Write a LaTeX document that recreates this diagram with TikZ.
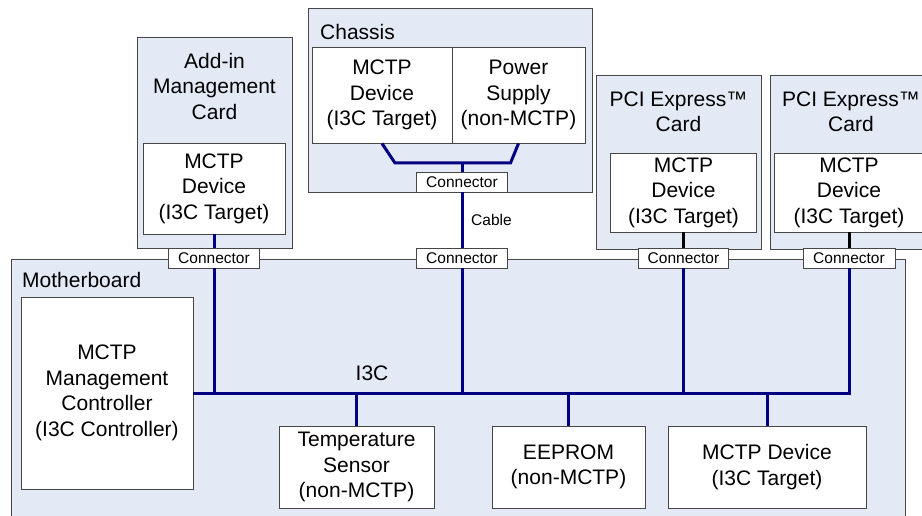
\documentclass[tikz,border=0pt]{standalone}
\usepackage{fontspec}
\setmainfont{Liberation Sans}
\definecolor{bgblue}{RGB}{228,234,245}
\definecolor{busblue}{RGB}{0,0,128}
\definecolor{edgegray}{RGB}{70,70,70}
\tikzset{
  panel/.style={draw=edgegray, fill=bgblue, line width=0.9pt, inner sep=0pt},
  whitebox/.style={draw=edgegray, fill=white, line width=0.9pt, inner sep=0pt, align=center,
    font=\fontsize{21}{25.5}\selectfont},
  connbox/.style={draw=edgegray, fill=white, line width=0.9pt, inner sep=0pt,
    minimum height=20pt, font=\fontsize{15.5}{17}\selectfont},
  bigtext/.style={align=center, inner sep=0pt, font=\fontsize{21}{25.5}\selectfont},
  smalltext/.style={inner sep=0pt, font=\fontsize{15.5}{17}\selectfont},
  busline/.style={draw=busblue, line width=3pt, line join=miter},
  stub/.style={draw=black, line width=3pt}
}
\begin{document}
\begin{tikzpicture}[x=1pt,y=-1pt]
\useasboundingbox (0,0) rectangle (922,516);
\clip (0,0) rectangle (922,516);

% Motherboard
\node[panel, minimum width=894pt, minimum height=271pt] (mb) at (458,394.5) {};
\node[bigtext, anchor=west] (mblabel) at (22,280) {Motherboard};

% Add-in management card
\node[panel, minimum width=155pt, minimum height=211pt] (addin) at (214.5,142.5) {};
\node[bigtext] (addinlabel) at (214.5,86) {Add-in\\Management\\Card};
\node[whitebox, minimum width=142pt, minimum height=91pt] (addindev) at (214,188.5) {MCTP\\Device\\(I3C Target)};

% Chassis
\node[panel, minimum width=284pt, minimum height=184pt] (chassis) at (450,100) {};
\node[bigtext, anchor=west] (chlabel) at (320,32) {Chassis};
\node[whitebox, minimum width=140pt, minimum height=96pt] (chdev) at (382,95) {MCTP\\Device\\(I3C Target)};
\node[whitebox, minimum width=133pt, minimum height=96pt] (chpsu) at (518.5,95) {Power\\Supply\\(non-MCTP)};
\node[connbox, minimum width=91pt] (chconn) at (462,182) {Connector};

% PCI Express cards
\node[panel, minimum width=165pt, minimum height=174pt] (pci1) at (678.5,162) {};
\node[bigtext] (pci1label) at (678.5,112) {PCI Express™\\Card};
\node[whitebox, minimum width=146pt, minimum height=79pt] (pci1dev) at (683.5,192.5) {MCTP\\Device\\(I3C Target)};

\node[panel, minimum width=165pt, minimum height=174pt] (pci2) at (852.5,162) {};
\node[bigtext] (pci2label) at (851,112) {PCI Express™\\Card};
\node[whitebox, minimum width=150pt, minimum height=79pt] (pci2dev) at (849,192.5) {MCTP\\Device\\(I3C Target)};

% Motherboard connectors
\node[connbox, minimum width=91pt] (conn1) at (214,258) {Connector};
\node[connbox, minimum width=91pt] (conn2) at (462,258) {Connector};
\node[connbox, minimum width=90pt] (conn3) at (683.5,258) {Connector};
\node[connbox, minimum width=92pt] (conn4) at (849,258) {Connector};

% Motherboard devices
\node[whitebox, minimum width=172pt, minimum height=192pt] (mgmt) at (107,393) {MCTP\\Management\\Controller\\(I3C Controller)};
\node[whitebox, minimum width=155pt, minimum height=82pt] (temp) at (356.5,467) {Temperature\\Sensor\\(non-MCTP)};
\node[whitebox, minimum width=153pt, minimum height=82pt] (eeprom) at (568.5,467) {EEPROM\\(non-MCTP)};
\node[whitebox, minimum width=198pt, minimum height=82pt] (mdev) at (767,467) {MCTP Device\\(I3C Target)};

\node[bigtext] (i3c) at (372,373) {I3C};
\node[smalltext, anchor=west] (cable) at (471,220) {Cable};

% Bus
\draw[busline] (mgmt.east) -- (conn4.south |- mgmt.east) -- (conn4.south);
\draw[busline] (conn1.south) -- (conn1.south |- mgmt.east);
\draw[busline] (conn2.south) -- (conn2.south |- mgmt.east);
\draw[busline] (conn3.south) -- (conn3.south |- mgmt.east);
\draw[busline] (temp.north) -- (temp.north |- mgmt.east);
\draw[busline] (eeprom.north) -- (eeprom.north |- mgmt.east);
\draw[busline] (mdev.north) -- (mdev.north |- mgmt.east);

% Add-in card link
\draw[busline] (addindev.south) -- (conn1.north);

% Chassis links
\coordinate (chj) at (462,163);
\draw[busline] (chdev.south) -- ([xshift=13pt]chdev.south |- chj) -- ([xshift=-8pt]chpsu.south |- chj) -- (chpsu.south);
\draw[busline] (chj) -- (chconn.north);
\draw[busline] (chconn.south) -- (conn2.north);

% PCI card stubs
\draw[stub] (pci1dev.south) -- (conn3.north);
\draw[stub] (pci2dev.south) -- (conn4.north);
\end{tikzpicture}
\end{document}
